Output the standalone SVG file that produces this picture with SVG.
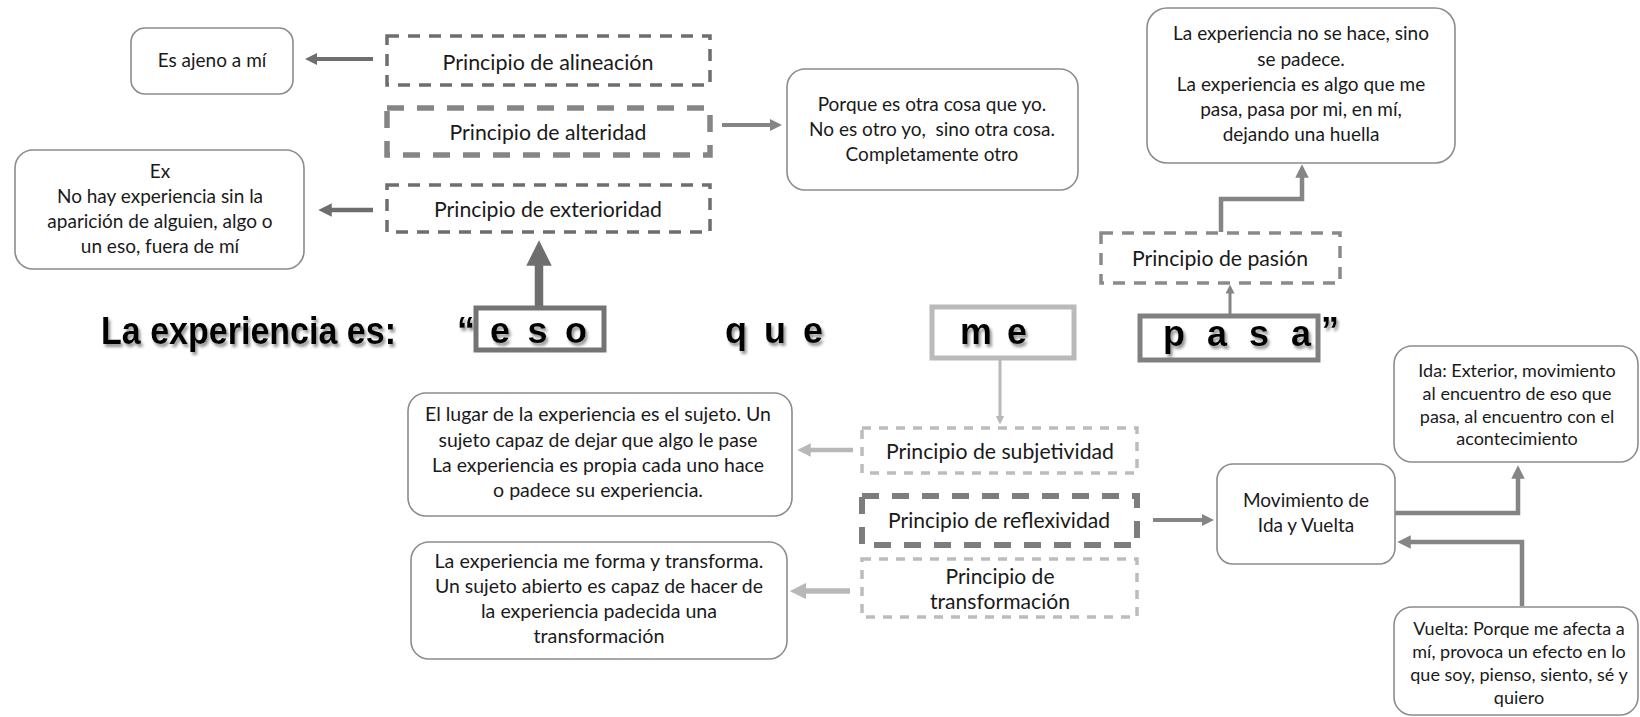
<svg xmlns="http://www.w3.org/2000/svg" width="1640" height="717" viewBox="0 0 1640 717">
<style>
text{font-family:"Lato","Open Sans",sans-serif;fill:#1a1a1a;text-anchor:middle}
.box{fill:#fff;stroke:#8c8c8c;stroke-width:1.6}
.t19{font-size:19px}
.t18{font-size:18px}
.pr{font-size:21.5px}
.big{font-family:"Liberation Sans",Arial,sans-serif;font-weight:bold;font-size:38px;fill:#000;filter:url(#sh)}
.word{font-family:"Liberation Sans",Arial,sans-serif;font-weight:bold;font-size:36px;fill:#000;filter:url(#sh)}
.dk{stroke:#6e6e6e;fill:none}
.md{stroke:#858585;fill:none}
.lt{stroke:#b8b8b8;fill:none}
.dash-dk{fill:none;stroke:#6e6e6e;stroke-width:3.5;stroke-dasharray:12 9}
.dash-md{fill:none;stroke:#858585;stroke-width:5.5;stroke-dasharray:17 13}
.dash-pa{fill:none;stroke:#8a8a8a;stroke-width:3.5;stroke-dasharray:12 9}
.dash-lt{fill:none;stroke:#bcbcbc;stroke-width:3.5;stroke-dasharray:9 8}
.dash-rf{fill:none;stroke:#7d7d7d;stroke-width:6;stroke-dasharray:17 13}
</style>
<defs>
<filter id="sh" x="-5%" y="-20%" width="115%" height="150%">
<feDropShadow dx="2" dy="3" stdDeviation="1.4" flood-color="#777" flood-opacity="0.8"/>
</filter>
<marker id="adk" viewBox="0 0 10 10" refX="5" refY="5" markerWidth="3" markerHeight="3" orient="auto"><path d="M0,0 L10,5 L0,10 z" fill="#6e6e6e"/></marker>
<marker id="amd" viewBox="0 0 10 10" refX="5" refY="5" markerWidth="3" markerHeight="3" orient="auto"><path d="M0,0 L10,5 L0,10 z" fill="#858585"/></marker>
<marker id="alt" viewBox="0 0 10 10" refX="5" refY="5" markerWidth="3" markerHeight="3" orient="auto"><path d="M0,0 L10,5 L0,10 z" fill="#b8b8b8"/></marker>
</defs>

<g id="connectors">
<line class="dk" x1="373" y1="59" x2="311" y2="59" stroke-width="4" marker-end="url(#adk)"/>
<line class="md" x1="722" y1="125" x2="776" y2="125" stroke-width="4" marker-end="url(#amd)"/>
<line class="dk" x1="373" y1="210" x2="325" y2="210" stroke-width="4.5" marker-end="url(#adk)"/>
<line class="dk" x1="539" y1="308" x2="539" y2="253" stroke-width="8.5" marker-end="url(#adk)"/>
<line class="md" x1="1230" y1="316" x2="1230" y2="289" stroke-width="3" marker-end="url(#amd)"/>
<polyline class="md" points="1221,232 1221,199 1302,199 1302,171" stroke-width="4.5" marker-end="url(#amd)"/>
<line class="lt" x1="1000" y1="359" x2="1000" y2="420" stroke-width="3" marker-end="url(#alt)"/>
<line class="lt" x1="853" y1="450" x2="804" y2="450" stroke-width="4.5" marker-end="url(#alt)"/>
<line class="lt" x1="850" y1="591" x2="798" y2="591" stroke-width="5.5" marker-end="url(#alt)"/>
<line class="md" x1="1153" y1="520" x2="1208" y2="520" stroke-width="4" marker-end="url(#amd)"/>
<polyline class="md" points="1395,513 1518,513 1518,472" stroke-width="4.5" marker-end="url(#amd)"/>
<polyline class="md" points="1522,606 1522,542 1404,542" stroke-width="4.5" marker-end="url(#amd)"/>
</g>

<g id="title">
<text class="big" x="101" y="344" textLength="295" lengthAdjust="spacingAndGlyphs" style="text-anchor:start">La experiencia es:</text>
<text class="word" x="457" y="343" style="text-anchor:start">“</text>
<text class="word" x="725" y="343" style="text-anchor:start" textLength="98" lengthAdjust="spacing">q u e</text>
<text class="word" x="1321" y="343" style="text-anchor:start">”</text>
</g>

<g id="n-eso">
<rect x="476" y="308" width="128" height="42" fill="#fff" stroke="#747474" stroke-width="5"/>
<text class="word" x="490" y="343" style="text-anchor:start" textLength="97" lengthAdjust="spacing">e s o</text>
</g>
<g id="n-me">
<rect x="932" y="307" width="142" height="51" fill="#fff" stroke="#bababa" stroke-width="5"/>
<text class="word" x="960" y="344" style="text-anchor:start" textLength="67" lengthAdjust="spacing">m e</text>
</g>
<g id="n-pasa">
<rect x="1140" y="316" width="178" height="44" fill="#fff" stroke="#808080" stroke-width="5"/>
<text class="word" x="1163" y="346" style="text-anchor:start" textLength="148" lengthAdjust="spacing">p a s a</text>
</g>

<g id="n-alineacion">
<rect class="dash-dk" x="387" y="36" width="323" height="49"/>
<text class="pr" x="548" y="70" textLength="211" lengthAdjust="spacingAndGlyphs">Principio de alineación</text>
</g>
<g id="n-alteridad">
<rect class="dash-md" x="387" y="108" width="323" height="47"/>
<text class="pr" x="548" y="140" textLength="197" lengthAdjust="spacingAndGlyphs">Principio de alteridad</text>
</g>
<g id="n-exterioridad">
<rect class="dash-dk" x="387" y="185" width="323" height="47"/>
<text class="pr" x="548" y="217" textLength="228" lengthAdjust="spacingAndGlyphs">Principio de exterioridad</text>
</g>
<g id="n-pasion">
<rect class="dash-pa" x="1101" y="233" width="239" height="50"/>
<text class="pr" x="1220" y="266" textLength="176" lengthAdjust="spacingAndGlyphs">Principio de pasión</text>
</g>
<g id="n-subjetividad">
<rect class="dash-lt" x="862" y="428" width="275" height="45"/>
<text class="pr" x="1000" y="459" textLength="228" lengthAdjust="spacingAndGlyphs">Principio de subjetividad</text>
</g>
<g id="n-reflexividad">
<rect class="dash-rf" x="862" y="496" width="275" height="49"/>
<text class="pr" x="999" y="528" textLength="222" lengthAdjust="spacingAndGlyphs">Principio de reflexividad</text>
</g>
<g id="n-transformacion">
<rect class="dash-lt" x="862" y="559" width="275" height="58"/>
<text class="pr" x="1000" y="584" textLength="109" lengthAdjust="spacingAndGlyphs">Principio de</text>
<text class="pr" x="1000" y="609" textLength="140" lengthAdjust="spacingAndGlyphs">transformación</text>
</g>

<g id="n-ajeno">
<rect class="box" x="131" y="28" width="162" height="66" rx="14"/>
<text class="t19" x="212" y="67">Es ajeno a mí</text>
</g>
<g id="n-ex">
<rect class="box" x="15" y="150" width="289" height="119" rx="18"/>
<text class="t19" x="160" y="178">Ex</text>
<text class="t19" x="160" y="203">No hay experiencia sin la</text>
<text class="t19" x="160" y="228">aparición de alguien, algo o</text>
<text class="t19" x="160" y="253">un eso, fuera de mí</text>
</g>
<g id="n-porque">
<rect class="box" x="787" y="69" width="291" height="121" rx="18"/>
<text class="t19" x="932" y="111">Porque es otra cosa que yo.</text>
<text class="t19" x="932" y="136" xml:space="preserve">No es otro yo,  sino otra cosa.</text>
<text class="t19" x="932" y="161">Completamente otro</text>
</g>
<g id="n-padece">
<rect class="box" x="1147" y="8" width="308" height="155" rx="20"/>
<text class="t19" x="1301" y="40">La experiencia no se hace, sino</text>
<text class="t19" x="1301" y="66">se padece.</text>
<text class="t19" x="1301" y="91">La experiencia es algo que me</text>
<text class="t19" x="1301" y="116">pasa, pasa por mi, en mí,</text>
<text class="t19" x="1301" y="141">dejando una huella</text>
</g>
<g id="n-lugar">
<rect class="box" x="408" y="393" width="384" height="123" rx="18"/>
<text class="t19" x="598" y="421" textLength="346" lengthAdjust="spacingAndGlyphs">El lugar de la experiencia es el sujeto. Un</text>
<text class="t19" x="598" y="447" textLength="319" lengthAdjust="spacingAndGlyphs">sujeto capaz de dejar que algo le pase</text>
<text class="t19" x="598" y="472" textLength="332" lengthAdjust="spacingAndGlyphs">La experiencia es propia cada uno hace</text>
<text class="t19" x="598" y="497" textLength="210" lengthAdjust="spacingAndGlyphs">o padece su experiencia.</text>
</g>
<g id="n-forma">
<rect class="box" x="411" y="542" width="376" height="117" rx="18"/>
<text class="t19" x="599" y="568" textLength="329" lengthAdjust="spacingAndGlyphs">La experiencia me forma y transforma.</text>
<text class="t19" x="599" y="593" textLength="328" lengthAdjust="spacingAndGlyphs">Un sujeto abierto es capaz de hacer de</text>
<text class="t19" x="599" y="618" textLength="236" lengthAdjust="spacingAndGlyphs">la experiencia padecida una</text>
<text class="t19" x="599" y="643" textLength="131" lengthAdjust="spacingAndGlyphs">transformación</text>
</g>
<g id="n-movimiento">
<rect class="box" x="1217" y="464" width="178" height="100" rx="16"/>
<text class="t19" x="1306" y="507">Movimiento de</text>
<text class="t19" x="1306" y="532">Ida y Vuelta</text>
</g>
<g id="n-ida">
<rect class="box" x="1394" y="346" width="244" height="116" rx="18"/>
<text class="t18" x="1517" y="377">Ida: Exterior, movimiento</text>
<text class="t18" x="1517" y="400">al encuentro de eso que</text>
<text class="t18" x="1517" y="423">pasa, al encuentro con el</text>
<text class="t18" x="1517" y="445">acontecimiento</text>
</g>
<g id="n-vuelta">
<rect class="box" x="1394" y="607" width="244" height="108" rx="18"/>
<text class="t18" x="1519" y="635">Vuelta: Porque me afecta a</text>
<text class="t18" x="1519" y="658">mí, provoca un efecto en lo</text>
<text class="t18" x="1519" y="681">que soy, pienso, siento, sé y</text>
<text class="t18" x="1519" y="704">quiero</text>
</g>
</svg>
